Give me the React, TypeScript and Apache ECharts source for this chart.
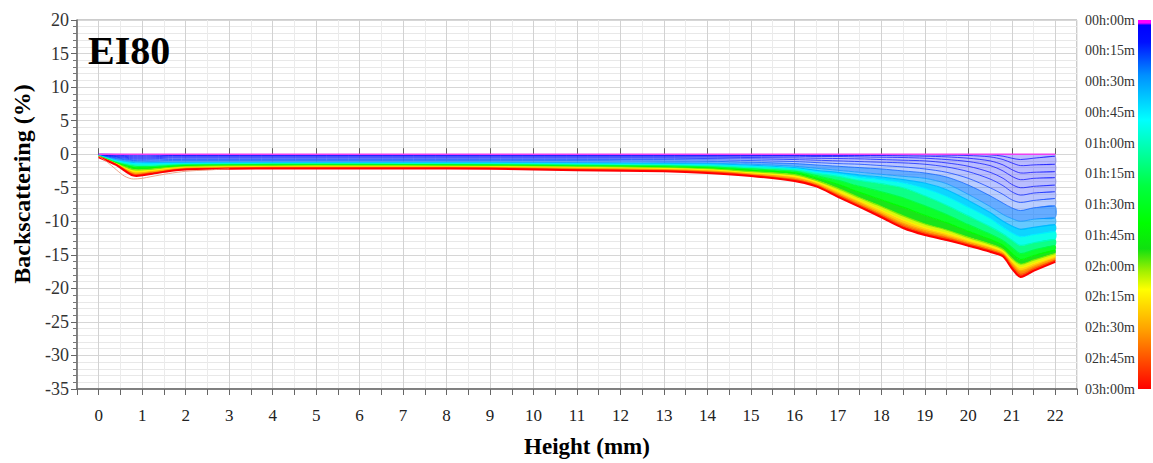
import React, { useEffect, useRef } from 'react';
import * as echarts from 'echarts';

// Height positions (mm) at which the profiles are read
const heights = [0, 0.4, 0.8, 1.2, 1.6, 2, 3, 5, 7, 9, 11, 13, 14, 15, 16, 16.5, 17, 17.5, 18, 18.5, 19, 19.5, 20, 20.5, 20.8, 21, 21.2, 21.5, 22];

// Scan times (minutes) of the drawn profiles
const times = [0, 1, 2, 4, 6, 9, 12, 16, 20, 27, 35, 45, 60, 80, 100, 120, 135, 150, 165, 180];

const bs000 = [0, 0, 0, 0, 0, 0, 0, 0, 0, 0, 0, 0, 0, 0, 0, 0, 0, 0, 0, 0, 0, 0, 0, 0, 0, 0, 0, 0, 0];
const bs001 = [0, -0.03, -0.05, -0.05, -0.05, -0.05, -0.05, -0.05, -0.05, -0.05, -0.05, -0.05, -0.05, -0.05, -0.05, -0.05, -0.05, -0.05, -0.05, -0.05, -0.05, -0.05, -0.05, -0.1, -0.3, -0.6, -0.8, -0.6, -0.3];
const bs002 = [-0.02, -0.05, -0.1, -0.1, -0.1, -0.1, -0.1, -0.1, -0.1, -0.1, -0.1, -0.1, -0.1, -0.1, -0.1, -0.1, -0.1, -0.1, -0.1, -0.1, -0.1, -0.15, -0.2, -0.4, -0.8, -1.3, -1.7, -1.6, -1.5];
const bs004 = [-0.04, -0.15, -0.25, -0.25, -0.2, -0.2, -0.2, -0.2, -0.2, -0.2, -0.2, -0.2, -0.2, -0.2, -0.2, -0.2, -0.2, -0.2, -0.2, -0.25, -0.3, -0.4, -0.6, -1.0, -1.6, -2.3, -2.8, -2.7, -2.6];
const bs006 = [-0.06, -0.25, -0.4, -0.4, -0.3, -0.3, -0.3, -0.3, -0.3, -0.3, -0.3, -0.3, -0.3, -0.3, -0.3, -0.35, -0.35, -0.4, -0.45, -0.5, -0.6, -0.8, -1.1, -1.7, -2.5, -3.3, -3.8, -3.6, -3.5];
const bs009 = [-0.08, -0.35, -0.55, -0.55, -0.45, -0.45, -0.45, -0.45, -0.45, -0.45, -0.45, -0.45, -0.45, -0.5, -0.55, -0.6, -0.65, -0.7, -0.8, -0.9, -1.0, -1.3, -1.8, -2.7, -3.6, -4.5, -5.0, -4.8, -4.6];
const bs012 = [-0.1, -0.45, -0.7, -0.7, -0.6, -0.6, -0.6, -0.6, -0.6, -0.6, -0.6, -0.6, -0.65, -0.7, -0.8, -0.9, -1.0, -1.1, -1.2, -1.3, -1.5, -1.9, -2.6, -3.7, -4.7, -5.6, -6.1, -5.8, -5.6];
const bs016 = [-0.12, -0.55, -0.85, -0.85, -0.8, -0.8, -0.8, -0.8, -0.8, -0.8, -0.8, -0.8, -0.85, -0.95, -1.1, -1.25, -1.4, -1.5, -1.7, -1.9, -2.2, -2.7, -3.6, -5.0, -6.0, -6.8, -7.2, -6.9, -6.6];
const bs020 = [-0.14, -0.65, -0.95, -1.0, -0.95, -0.95, -0.95, -0.95, -0.95, -0.95, -0.95, -1.0, -1.05, -1.2, -1.4, -1.6, -1.8, -2.0, -2.2, -2.5, -2.8, -3.4, -4.6, -6.2, -7.3, -8.0, -8.4, -8.0, -7.7];
const bs027 = [-0.18, -0.8, -1.1, -1.2, -1.2, -1.2, -1.2, -1.2, -1.2, -1.2, -1.25, -1.3, -1.35, -1.5, -1.8, -2.1, -2.4, -2.7, -3.0, -3.3, -3.6, -4.4, -6.0, -7.8, -9.0, -9.6, -10.0, -9.7, -9.5];
const bs035 = [-0.2, -0.9, -1.25, -1.3, -1.3, -1.3, -1.28, -1.28, -1.3, -1.3, -1.35, -1.4, -1.45, -1.65, -2.0, -2.4, -2.7, -3.1, -3.4, -3.8, -4.3, -5.3, -6.9, -8.7, -10.0, -10.7, -11.2, -10.9, -10.5];
const bs045 = [-0.22, -1.0, -1.4, -1.45, -1.4, -1.4, -1.36, -1.35, -1.37, -1.38, -1.45, -1.5, -1.58, -1.82, -2.15, -2.6, -2.95, -3.45, -3.8, -4.3, -5.1, -6.3, -7.9, -9.6, -10.9, -11.7, -12.3, -12.0, -11.5];
const bs060 = [-0.25, -1.1, -1.6, -1.65, -1.55, -1.5, -1.45, -1.43, -1.45, -1.47, -1.55, -1.62, -1.72, -2.0, -2.3, -2.85, -3.3, -3.9, -4.4, -5.0, -6.2, -7.6, -9.2, -10.8, -11.9, -12.8, -13.6, -13.2, -12.7];
const bs080 = [-0.28, -1.2, -1.8, -1.85, -1.7, -1.6, -1.55, -1.52, -1.54, -1.56, -1.65, -1.75, -1.88, -2.2, -2.55, -3.2, -3.9, -4.8, -5.6, -6.5, -7.7, -9.0, -10.5, -11.9, -12.9, -13.9, -14.8, -14.3, -13.6];
const bs100 = [-0.3, -1.3, -2.0, -2.0, -1.85, -1.72, -1.65, -1.62, -1.63, -1.66, -1.76, -1.88, -2.04, -2.4, -2.8, -3.55, -4.5, -5.7, -6.8, -7.9, -9.1, -10.2, -11.5, -12.7, -13.6, -14.8, -15.7, -15.1, -14.3];
const bs120 = [-0.32, -1.4, -2.3, -2.25, -2.0, -1.85, -1.75, -1.72, -1.73, -1.76, -1.88, -2.02, -2.2, -2.6, -3.05, -3.9, -5.1, -6.5, -7.8, -9.2, -10.4, -11.3, -12.4, -13.4, -14.2, -15.5, -16.4, -15.8, -14.8];
const bs135 = [-0.35, -1.45, -2.55, -2.45, -2.15, -1.97, -1.87, -1.82, -1.83, -1.86, -2.0, -2.15, -2.35, -2.8, -3.3, -4.15, -5.5, -6.95, -8.35, -9.8, -10.95, -11.8, -12.8, -13.75, -14.5, -15.9, -16.9, -16.3, -15.2];
const bs150 = [-0.38, -1.5, -2.8, -2.65, -2.3, -2.08, -1.97, -1.92, -1.93, -1.96, -2.12, -2.28, -2.5, -2.95, -3.55, -4.4, -5.85, -7.3, -8.8, -10.3, -11.4, -12.2, -13.15, -14.05, -14.8, -16.3, -17.4, -16.7, -15.55];
const bs165 = [-0.4, -1.55, -3.0, -2.8, -2.45, -2.2, -2.07, -2.02, -2.03, -2.07, -2.25, -2.42, -2.65, -3.1, -3.8, -4.6, -6.1, -7.6, -9.1, -10.7, -11.75, -12.5, -13.4, -14.3, -15.0, -16.65, -17.9, -17.1, -15.8];
const bs180 = [-0.45, -1.6, -3.2, -2.95, -2.55, -2.3, -2.17, -2.12, -2.13, -2.18, -2.38, -2.55, -2.8, -3.25, -4.0, -4.8, -6.35, -7.85, -9.4, -11.0, -12.05, -12.8, -13.65, -14.55, -15.25, -17.0, -18.3, -17.4, -16.05];

const curves = [bs000, bs001, bs002, bs004, bs006, bs009, bs012, bs016, bs020, bs027, bs035, bs045, bs060, bs080, bs100, bs120, bs135, bs150, bs165, bs180];

// faint pale line under the band near the bottom of the tube
const paleHeights = [0, 0.2, 0.4, 0.6, 0.8, 1.0, 1.2, 1.6, 2.0, 2.5, 3.0];
const paleValues = [-0.3, -1.2, -2.3, -3.3, -3.7, -3.6, -3.35, -2.9, -2.55, -2.35, -2.2];

const timeLabels = ['00h:00m', '00h:15m', '00h:30m', '00h:45m', '01h:00m', '01h:15m', '01h:30m', '01h:45m', '02h:00m', '02h:15m', '02h:30m', '02h:45m', '03h:00m'];
const xTickPositions = Array.from({ length: 47 }, (_, i) => String(-0.5 + i * 0.5));

const colorStops: [number, string][] = [
  [0, '#ff00ff'], [0.008, '#ff00ff'], [0.014, '#0000ff'], [0.06, '#0010ff'], [0.15, '#0090ff'],
  [0.27, '#00ffff'], [0.36, '#00ffa0'], [0.45, '#00ff40'], [0.55, '#00ff00'], [0.62, '#10e010'],
  [0.68, '#a0f000'], [0.73, '#ffff00'], [0.84, '#ffa000'], [0.92, '#ff5000'], [1, '#ff0000'],
];

const SERIF = '"Liberation Serif", "Times New Roman", serif';
const SMOOTH = 0.3;

function hexRgb(h: string) {
  const n = parseInt(h.slice(1), 16);
  return [(n >> 16) & 255, (n >> 8) & 255, n & 255];
}
function colorAt(f: number, a = 1) {
  f = Math.max(0, Math.min(1, f));
  for (let i = 1; i < colorStops.length; i++) {
    const [o1, c1] = colorStops[i - 1];
    const [o2, c2] = colorStops[i];
    if (f <= o2) {
      const t = o2 === o1 ? 0 : (f - o1) / (o2 - o1);
      const a1 = hexRgb(c1), a2 = hexRgb(c2);
      const r = a1.map((v, k) => Math.round(v + (a2[k] - v) * t));
      return `rgba(${r[0]},${r[1]},${r[2]},${a})`;
    }
  }
  return `rgba(255,0,0,${a})`;
}

export default function App() {
  const ref = useRef<HTMLDivElement>(null);
  useEffect(() => {
    document.body.style.margin = '0';
    const chart = echarts.init(ref.current!, null, { renderer: 'svg' });

    const bandColor = (k: number) => {
      const mid = Math.max(0.02, (times[k] + times[k + 1]) / 2 / 180);
      const op = mid < 0.12 ? 0.27 : mid < 0.2 ? 0.6 : 0.95;
      return colorAt(mid, op);
    };
    const lineStyleOf = (k: number) => {
      const t = times[k];
      if (t === 0) return { stroke: '#f040f0', lineWidth: 1.6 };
      const f = Math.max(0.02, t / 180);
      const early = t <= 27;
      return { stroke: colorAt(f, early ? 0.7 : 1), lineWidth: t === 180 ? 2 : early ? 1 : 1.2 };
    };

    const profileSeries: any = {
      type: 'custom',
      silent: true,
      data: curves.map((_, k) => [k, 0]),
      renderItem: (params: any, api: any) => {
        const k = params.dataIndex;
        const cur = curves[k];
        const linePts = heights.map((x, i) => api.coord([x, cur[i]]));
        const children: any[] = [];
        if (k < curves.length - 1) {
          const lo = curves[k + 1];
          const pts = linePts.slice();
          for (let i = heights.length - 1; i >= 0; i--) pts.push(api.coord([heights[i], lo[i]]));
          children.push({ type: 'polygon', z2: 0, shape: { points: pts, smooth: SMOOTH }, style: { fill: bandColor(k), stroke: null } });
        }
        children.push({
          type: 'polyline', z2: k === 0 ? 50 : 5,
          shape: { points: linePts, smooth: SMOOTH },
          style: { ...lineStyleOf(k), fill: null },
        });
        return { type: 'group', children };
      },
      z: 2,
    };

    const paleSeries: any = {
      type: 'line',
      data: paleHeights.map((x, j) => [x, paleValues[j]]),
      showSymbol: false,
      silent: true,
      smooth: 0.3,
      z: 3,
      lineStyle: { color: 'rgba(235,150,120,0.85)', width: 1 },
    };

    const option: any = {
      animation: false,
      backgroundColor: '#ffffff',
      grid: { left: 77, top: 20, width: 1000, height: 369, show: true, borderColor: '#999', borderWidth: 1, backgroundColor: '#fff', containLabel: false },
      xAxis: [
        {
          type: 'value', min: -0.5, max: 22.5, interval: 0.5,
          axisLine: { show: true, onZero: false, lineStyle: { color: '#666', width: 1.5 } },
          axisTick: { show: true, length: 6, lineStyle: { color: '#666' } },
          axisLabel: {
            formatter: (v: number) => (Number.isInteger(v) ? String(v) : ''),
            fontFamily: SERIF, fontSize: 17, color: '#222', margin: 18,
          },
          splitLine: { show: true, lineStyle: { color: ['#ebebeb', '#d2d2d2'], width: 1 } },
        },
        {
          type: 'category', data: xTickPositions, boundaryGap: false, position: 'bottom',
          axisLine: { show: false },
          axisLabel: { show: false },
          axisTick: { show: true, inside: true, length: 6, interval: (i: number) => i % 2 === 1, lineStyle: { color: '#666' } },
          splitLine: { show: false },
        },
      ],
      yAxis: {
        type: 'value', min: -35, max: 20, interval: 5,
        axisLine: { show: true, onZero: false, lineStyle: { color: '#666', width: 1.5 } },
        axisTick: { show: true, length: 6, lineStyle: { color: '#666' } },
        minorTick: { show: true, splitNumber: 5, length: 4, lineStyle: { color: '#777' } },
        axisLabel: { fontFamily: SERIF, fontSize: 18, color: '#333', margin: 8 },
        splitLine: { show: true, lineStyle: { color: '#d6d6d6' } },
        minorSplitLine: { show: true, lineStyle: { color: '#e8e8e8' } },
      },
      graphic: [
        { type: 'text', x: 88, y: 50, z: 10, style: { text: 'EI80', font: `bold 40px ${SERIF}`, fill: '#000', verticalAlign: 'middle', textVerticalAlign: 'middle' } },
        { type: 'text', x: 22, y: 184, rotation: Math.PI / 2, style: { text: 'Backscattering (%)', font: `bold 24px ${SERIF}`, fill: '#000', align: 'center', textAlign: 'center', verticalAlign: 'middle', textVerticalAlign: 'middle' } },
        { type: 'text', x: 587, y: 446, style: { text: 'Height (mm)', font: `bold 23px ${SERIF}`, fill: '#000', align: 'center', textAlign: 'center', verticalAlign: 'middle', textVerticalAlign: 'middle' } },
        {
          type: 'rect', shape: { x: 1138, y: 20, width: 13, height: 369 },
          style: { fill: new echarts.graphic.LinearGradient(0, 0, 0, 1, colorStops.map(([o, c]) => ({ offset: o, color: c }))) },
        },
        ...timeLabels.map((s, i) => ({
          type: 'text', x: 1085, y: 20 + (i * 369) / 12,
          style: { text: s, font: `14px ${SERIF}`, fill: '#333', align: 'left', textAlign: 'left', verticalAlign: 'middle', textVerticalAlign: 'middle' },
        })),
      ],
      series: [profileSeries, paleSeries],
    };
    chart.setOption(option);
    return () => chart.dispose();
  }, []);
  return <div ref={ref} style={{ width: 1153, height: 463 }} />;
}
